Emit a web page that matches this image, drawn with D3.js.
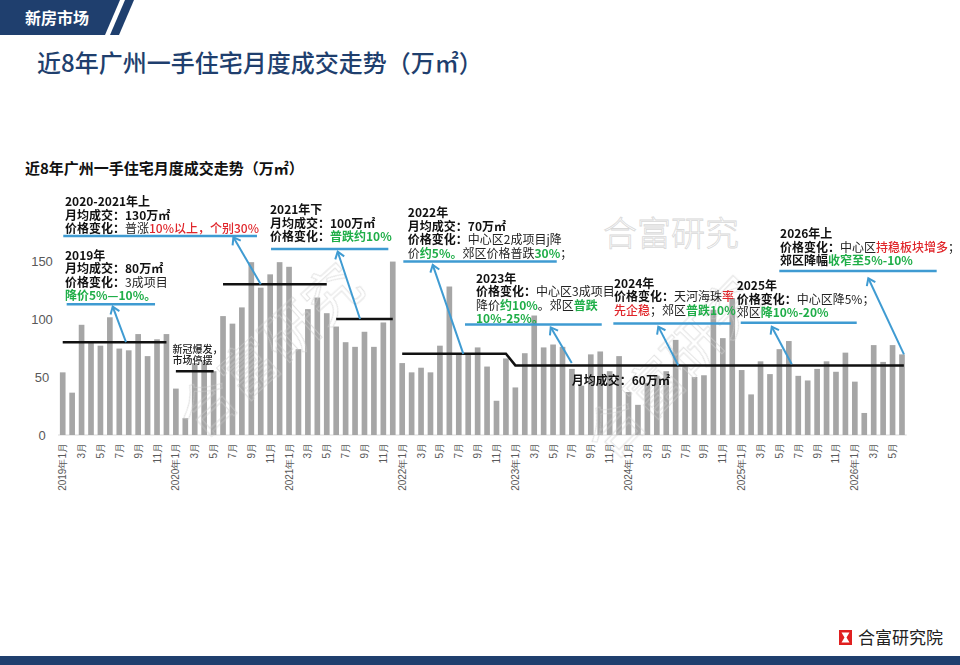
<!DOCTYPE html>
<html><head><meta charset="utf-8">
<script src="https://cdn.jsdelivr.net/npm/d3@7"></script>
<style>
body{margin:0;background:#fff;}
svg{display:block;font-family:"Noto Sans CJK SC","Noto Sans",sans-serif;}
</style></head><body>
<svg id="c" width="960" height="665"></svg>
<script>
// ---------- data (万㎡, monthly) ----------
const startYear = 2019;
const v2019 = [54, 36.5, 95, 81, 77, 101.5, 74.5, 73, 87, 68, 82.5, 87];
const v2020 = [40, 14.5, 62, 63, 55, 102.5, 96, 110, 149, 127, 138.5, 149];
const v2021 = [145, 74, 108.5, 118.5, 105, 93.5, 80, 76, 89, 76, 97, 149.5];
const v2022 = [62, 54, 58, 54, 77, 128, 70, 69, 75.5, 59, 29.5, 66];
const v2023 = [41, 70.5, 103, 75.5, 78, 76, 57, 42.5, 69.5, 72, 55, 68];
const v2024 = [37, 26, 45, 51, 55, 82, 59.5, 50, 51.5, 108, 83.5, 118];
const v2025 = [56, 35, 63.5, 52.5, 74, 81, 51, 47, 57, 63.5, 54.5, 71];
const v2026 = [46, 19, 77.5, 63, 77.5, 69.5];
const values = [].concat(v2019, v2020, v2021, v2022, v2023, v2024, v2025, v2026);
const yTicks = [0, 50, 100, 150];
// average-volume segments (month index from/to, value)
const avgSegments = [
  {from: 0, to: 11, value: 80},
  {from: 12, to: 16, value: 55},
  {from: 17, to: 28, value: 130},
  {from: 29, to: 35, value: 100}
];
const trendPoints = [[36, 70], [47, 70], [48, 60], [89.2, 60]];

// category labels
const months = values.map((v, i) => ({y: startYear + Math.floor(i / 12), m: i % 12 + 1}));
const tickIdx = months.map((d, i) => i).filter(i => months[i].m % 2 === 1);
const tickLabel = i => months[i].m === 1 ? `${months[i].y}年1月` : `${months[i].m}月`;

// ---------- annotations (in data coords: month index, value) ----------
const notes = [
  {tx: 0.24, ty: 150.9, rule: [0.42, 9.79, 112.7], arrow: [6.71, 80, 5.3, 110.6], lines: [
    [["2019年", "b"]],
    [["月均成交：80万㎡", "b"]],
    [["价格变化：", "b"], ["3成项目", "n"]],
    [["降价5%—10%。", "g"]]]},
  {tx: 0.24, ty: 197.4, rule: [0.06, 20.6, 171.6], arrow: [21.0, 130, 18.1, 170.4], lines: [
    [["2020-2021年上", "b"]],
    [["月均成交：130万㎡", "b"]],
    [["价格变化：", "b"], ["普涨", "n"], ["10%以上，个别30%", "r"]]]},
  {tx: 21.98, ty: 190.1, rule: [22.09, 34.53, 160.3], arrow: [31.53, 100, 29.16, 158.0], lines: [
    [["2021年下", "b"]],
    [["月均成交：100万㎡", "b"]],
    [["价格变化：", "b"], ["普跌约10%", "g"]]]},
  {tx: 36.6, ty: 187.7, rule: [36.12, 52.39, 149.6], arrow: [42.48, 70, 39.24, 146.6], lines: [
    [["2022年", "b"]],
    [["月均成交：70万㎡", "b"]],
    [["价格变化：", "b"], ["中心区2成项目j降", "n"]],
    [["价", "n"], ["约5%。", "g"], ["郊区价格普跌", "n"], ["30%", "g"], ["；", "n"]]]},
  {tx: 43.83, ty: 131.2, rule: [42.66, 57.16, 95.3], arrow: [53.98, 62, 51.75, 92.8], lines: [
    [["2023年", "b"]],
    [["价格变化：", "b"], ["中心区3成项目", "n"]],
    [["降价", "n"], ["约10%", "g"], ["。郊区", "n"], ["普跌", "g"]],
    [["10%-25%。", "g"]]]},
  {tx: 58.46, ty: 126.9, rule: [58.39, 70.84, 96.1], arrow: [65.28, 60, 63.16, 93.4], lines: [
    [["2024年", "b"]],
    [["价格变化：", "b"], ["天河海珠", "n"], ["率", "r"]],
    [["先企稳", "r"], ["；郊区", "n"], ["普跌10%", "g"]]]},
  {tx: 71.47, ty: 124.6, rule: [71.9, 84.2, 96.8], arrow: [77.31, 61, 75.19, 93.4], lines: [
    [["2025年", "b"]],
    [["价格变化：", "b"], ["中心区降5%；", "n"]],
    [["郊区", "n"], ["降10%-20%", "g"]]]},
  {tx: 76.07, ty: 169.4, rule: [75.99, 92.68, 141.4], arrow: [89.21, 69.5, 85.43, 135.1], lines: [
    [["2026年上", "b"]],
    [["价格变化：", "b"], ["中心区", "n"], ["持稳板块增多", "r"], ["；", "n"]],
    [["郊区降幅", "b"], ["收窄至5%-10%", "g"]]]}
];

// ---------- drawing ----------
const navy = "#1f3f6e", blue = "#3f9bd2", green = "#1fae48", red = "#e0262b", barColor = "#a6a6a6";
const segStyle = {
  b: {fill: "#111", w: 700},
  n: {fill: "#222", w: 400},
  g: {fill: green, w: 700},
  r: {fill: red, w: 500}
};
const svg = d3.select("#c");

// header
svg.append("polygon").attr("points", "0,0 120,0 105,35 0,35").attr("fill", navy);
svg.append("polygon").attr("points", "125,0 134,0 119,35 110,35").attr("fill", navy);
svg.append("text").attr("x", 25).attr("y", 24).attr("fill", "#fff").attr("font-size", 16)
  .attr("font-weight", 700).text("新房市场");
svg.append("text").attr("x", 37).attr("y", 72).attr("fill", navy).attr("font-size", 24)
  .attr("font-weight", 500).text("近8年广州一手住宅月度成交走势（万㎡）");

// footer
svg.append("rect").attr("x", 0).attr("y", 656).attr("width", 960).attr("height", 9).attr("fill", navy);
const logo = svg.append("g").attr("transform", "translate(839,630)");
logo.append("rect").attr("width", 13).attr("height", 15).attr("fill", "#e02020");
logo.append("path").attr("d", "M2.5,2.5 L10.5,2.5 L7.5,7.5 L10.5,12.5 L2.5,12.5 L5.5,7.5 Z").attr("fill", "#fff");
svg.append("text").attr("x", 858).attr("y", 644).attr("font-size", 17).attr("fill", "#222")
  .text("合富研究院");

// inner title
svg.append("text").attr("x", 25).attr("y", 174).attr("font-size", 15).attr("font-weight", 700)
  .attr("fill", "#111").text("近8年广州一手住宅月度成交走势（万㎡）");

// scales
const x = d3.scaleBand().domain(d3.range(values.length)).range([58, 906.7])
  .paddingInner(0.4).paddingOuter(0.2);
const y = d3.scaleLinear().domain([0, 150]).range([435, 261]);
const X = f => x(0) + x.bandwidth() / 2 + f * x.step();

// watermarks
const wm = svg.append("g").attr("fill", "none").attr("stroke", "#c9c9c9").attr("stroke-width", 0.8)
  .attr("opacity", 0.7).attr("font-weight", 300);
wm.append("text").attr("x", 603).attr("y", 246).attr("font-size", 34).text("合富研究");

// y axis
const yAxis = svg.append("g").attr("transform", "translate(52,0)")
  .call(d3.axisLeft(y).tickValues(yTicks).tickSize(0).tickPadding(10));
yAxis.select(".domain").remove();
yAxis.selectAll("text").attr("text-anchor", "middle").attr("x", -10)
  .attr("font-size", 13).attr("fill", "#595959").attr("font-family", "Liberation Sans, Arial, sans-serif");

// baseline
svg.append("line").attr("x1", x.range()[0]).attr("x2", x.range()[1]).attr("y1", y(0)).attr("y2", y(0))
  .attr("stroke", "#d9d9d9").attr("stroke-width", 1);

// bars
svg.append("g").selectAll("rect").data(values).join("rect")
  .attr("x", (d, i) => x(i)).attr("width", x.bandwidth())
  .attr("y", d => y(d)).attr("height", d => y(0) - y(d)).attr("fill", barColor);

// x axis
const xAxis = svg.append("g").attr("transform", `translate(0,${y(0)})`)
  .call(d3.axisBottom(x).tickValues(tickIdx).tickFormat(tickLabel).tickSize(0));
xAxis.select(".domain").remove();
xAxis.selectAll("text").attr("transform", "rotate(-90)").attr("x", -8).attr("y", 0)
  .attr("dy", "0.35em").attr("text-anchor", "end").attr("font-size", 10).attr("fill", "#595959");

// diagonal watermarks (over bars)
const wm2 = svg.append("g").attr("fill", "none").attr("stroke", "#cfcfcf").attr("stroke-width", 0.9)
  .attr("opacity", 0.65).attr("font-size", 56);
wm2.append("text").attr("transform", "translate(200,440) rotate(-42)").text("合富研究");
wm2.append("text").attr("transform", "translate(610,462) rotate(-46)").text("合富研究");

// average lines
const avgG = svg.append("g").attr("stroke", "#111").attr("stroke-width", 2.5);
avgG.selectAll("line").data(avgSegments).join("line")
  .attr("x1", d => X(d.from)).attr("x2", d => X(d.to))
  .attr("y1", d => y(d.value)).attr("y2", d => y(d.value));
svg.append("path").datum(trendPoints)
  .attr("d", d3.line().x(d => X(d[0])).y(d => y(d[1])))
  .attr("fill", "none").attr("stroke", "#111").attr("stroke-width", 2.5);

// small labels
svg.append("text").attr("x", X(53.98)).attr("y", y(43.5)).attr("font-size", 12).attr("font-weight", 700)
  .attr("fill", "#111").text("月均成交：60万㎡");
const covid = svg.append("text").attr("font-size", 10).attr("font-weight", 500).attr("fill", "#222");
["新冠爆发，", "市场停摆"].forEach((t, k) =>
  covid.append("tspan").attr("x", X(11.65)).attr("y", y(71.1) + k * 11).text(t));

// annotations
const lh = 13.5;
notes.forEach(n => {
  const g = svg.append("g");
  const t = g.append("text").attr("font-size", 12);
  n.lines.forEach((segs, k) => {
    const ln = t.append("tspan").attr("x", X(n.tx)).attr("y", y(n.ty) + k * lh);
    segs.forEach(([s, st]) => ln.append("tspan").attr("fill", segStyle[st].fill)
      .attr("font-weight", segStyle[st].w).text(s));
  });
  g.append("line").attr("x1", X(n.rule[0])).attr("x2", X(n.rule[1]))
    .attr("y1", y(n.rule[2])).attr("y2", y(n.rule[2]))
    .attr("stroke", blue).attr("stroke-width", 2.5);
  const [a0, v0, a1, v1] = n.arrow;
  const x0 = X(a0), y0 = y(v0), x1 = X(a1), y1 = y(v1);
  const ang = Math.atan2(y1 - y0, x1 - x0), L = 8, sp = Math.PI / 5;
  g.append("line").attr("x1", x0).attr("y1", y0).attr("x2", x1).attr("y2", y1)
    .attr("stroke", blue).attr("stroke-width", 2);
  g.append("path")
    .attr("d", `M${x1 - L * Math.cos(ang - sp)},${y1 - L * Math.sin(ang - sp)} L${x1},${y1} L${x1 - L * Math.cos(ang + sp)},${y1 - L * Math.sin(ang + sp)}`)
    .attr("fill", "none").attr("stroke", blue).attr("stroke-width", 2);
});
</script>
</body></html>
